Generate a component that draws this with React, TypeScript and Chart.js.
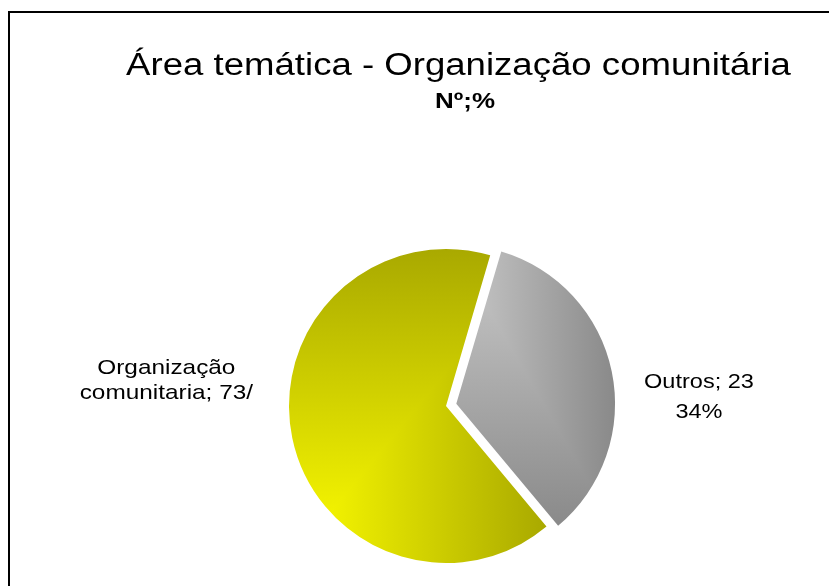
import { useEffect, useRef } from "react";
import { Chart, registerables } from "chart.js";

Chart.register(...registerables);

// ---- data ----
const chartTitle = "Área temática - Organização comunitária";
const chartSubtitle = "Nº;%";
const categories = ["Organização comunitaria", "Outros"];
const counts = [73, 23];
const shares = [65.6, 34.4]; // % of the pie
const startAngle = 140.2; // degrees clockwise from 12 o'clock where the first slice begins
const explode = [0, 42];

// ---- styling ----
const FONT = '"Liberation Sans", Arial, Helvetica, sans-serif';
const PIE_RADIUS = 157;
const sliceFill = [
  { corner: "bl", c0: "#ffff00", c1: "#a9a900" },
  { corner: "tl", c0: "#c9c9c9", c1: "#8a8a8a" },
];
const labelFontPx = 21;
const labelScaleX = [1.16, 1.12];
const labelGap = [36, 29];
const labelBaselineDy = [-32, -16];
const labelLineHeight = [25, 30];

const orgWords = categories[0].split(" ");
const labelLines = [
  [orgWords[0], `${orgWords[1]}; ${counts[0]}/`],
  [`${categories[1]}; ${counts[1]}`, `${Math.round(shares[1])}%`],
];

function sliceGeom(chart: any, i: number) {
  const ca = chart.chartArea;
  const cx = (ca.left + ca.right) / 2;
  const cy = (ca.top + ca.bottom) / 2;
  const total = shares.reduce((a, b) => a + b, 0);
  let a0 = -Math.PI / 2 + (startAngle * Math.PI) / 180;
  for (let j = 0; j < i; j++) a0 += (shares[j] / total) * Math.PI * 2;
  const a1 = a0 + (shares[i] / total) * Math.PI * 2;
  return { cx, cy, a0, a1, r: PIE_RADIUS };
}

const patternCache = new Map<string, CanvasPattern>();

function cornerPattern(chart: any, i: number) {
  const { cx, cy, a0, a1, r } = sliceGeom(chart, i);
  const key = `${i}-${cx}-${cy}-${chart.width}-${chart.height}`;
  const hit = patternCache.get(key);
  if (hit) return hit;
  let x0 = cx, x1 = cx, y0 = cy, y1 = cy;
  const steps = 200;
  for (let k = 0; k <= steps; k++) {
    const a = a0 + ((a1 - a0) * k) / steps;
    const px = cx + Math.cos(a) * r;
    const py = cy + Math.sin(a) * r;
    x0 = Math.min(x0, px); x1 = Math.max(x1, px);
    y0 = Math.min(y0, py); y1 = Math.max(y1, py);
  }
  const w = x1 - x0, h = y1 - y0;
  const { corner, c0, c1 } = sliceFill[i];
  const off = document.createElement("canvas");
  off.width = chart.width;
  off.height = chart.height;
  const g = off.getContext("2d")!;
  const vg = corner === "bl" ? g.createLinearGradient(0, y1, 0, y0) : g.createLinearGradient(0, y0, 0, y1);
  vg.addColorStop(0, c0);
  vg.addColorStop(1, c1);
  g.fillStyle = vg;
  g.fillRect(0, 0, off.width, off.height);
  const hg = g.createLinearGradient(x0, 0, x1, 0);
  hg.addColorStop(0, c0);
  hg.addColorStop(1, c1);
  const k = 10;
  g.beginPath();
  if (corner === "bl") {
    g.moveTo(x0 - k * w, y1 + k * h);
    g.lineTo(x1 + k * w, y0 - k * h);
    g.lineTo(x1 + k * w, y1 + k * h);
  } else {
    g.moveTo(x0 - k * w, y0 - k * h);
    g.lineTo(x1 + k * w, y1 + k * h);
    g.lineTo(x1 + k * w, y0 - k * h);
  }
  g.closePath();
  g.fillStyle = hg;
  g.fill();
  const pat = g.createPattern(off, "no-repeat")!;
  patternCache.set(key, pat);
  return pat;
}

function drawScaledText(ctx: CanvasRenderingContext2D, text: string, x: number, y: number, font: string, sx: number) {
  ctx.save();
  ctx.translate(x, y);
  ctx.scale(sx, 1);
  ctx.font = font;
  ctx.fillStyle = "#000";
  ctx.textAlign = "center";
  ctx.textBaseline = "alphabetic";
  ctx.fillText(text, 0, 0);
  ctx.restore();
}

const textPlugin = {
  id: "textPlugin",
  afterDraw(chart: any) {
    const ctx: CanvasRenderingContext2D = chart.ctx;
    // titles
    drawScaledText(ctx, chartTitle, 448.5, 62, `31px ${FONT}`, 1.18);
    drawScaledText(ctx, chartSubtitle, 455, 95, `bold 22px ${FONT}`, 1.18);
    // slice labels
    const meta = chart.getDatasetMeta(0);
    const font = `${labelFontPx}px ${FONT}`;
    ctx.save();
    ctx.font = font;
    meta.data.forEach((arc: any, i: number) => {
      const mid = (arc.startAngle + arc.endAngle) / 2;
      const off = (explode[i] || 0) / 4;
      const circ = arc.endAngle - arc.startAngle;
      const fix = 1 - Math.sin(Math.min(Math.PI, circ));
      const x = arc.x + Math.cos(mid) * off;
      const y = arc.y + Math.sin(mid) * off;
      const r = arc.outerRadius + off * fix;
      const lines = labelLines[i];
      const bw = Math.max(...lines.map((l) => ctx.measureText(l).width)) * labelScaleX[i];
      const side = Math.cos(mid) >= 0 ? 1 : -1;
      const tx = x + side * (r + labelGap[i] + bw / 2);
      lines.forEach((l, li) => {
        drawScaledText(ctx, l, tx, y + labelBaselineDy[i] + li * labelLineHeight[i], font, labelScaleX[i]);
      });
    });
    ctx.restore();
  },
};

export default function App() {
  const ref = useRef<HTMLCanvasElement>(null);
  useEffect(() => {
    document.body.style.overflow = "hidden";
    const chart = new Chart(ref.current!, {
      type: "pie",
      data: {
        labels: categories,
        datasets: [
          {
            data: shares,
            backgroundColor: (c: any) => {
              if (!c.chart.chartArea) return sliceFill[c.dataIndex]?.c0 ?? "#ccc";
              return cornerPattern(c.chart, c.dataIndex);
            },
            borderWidth: 0,
            offset: explode,
          } as any,
        ],
      },
      options: {
        responsive: false,
        animation: false,
        events: [],
        rotation: startAngle,
        radius: PIE_RADIUS,
        layout: { padding: { left: 53, right: 0, top: 213, bottom: 0 } },
        plugins: {
          legend: { display: false },
          tooltip: { enabled: false },
          title: { display: false },
        },
      } as any,
      plugins: [textPlugin],
    });
    return () => chart.destroy();
  }, []);
  return (
    <div
      style={{
        position: "fixed",
        left: 8,
        top: 11,
        width: 821,
        height: 575,
        boxSizing: "border-box",
        borderLeft: "2px solid #000",
        borderTop: "2px solid #000",
        background: "#fff",
      }}
    >
      <canvas ref={ref} width={819} height={573} style={{ display: "block" }} />
    </div>
  );
}
